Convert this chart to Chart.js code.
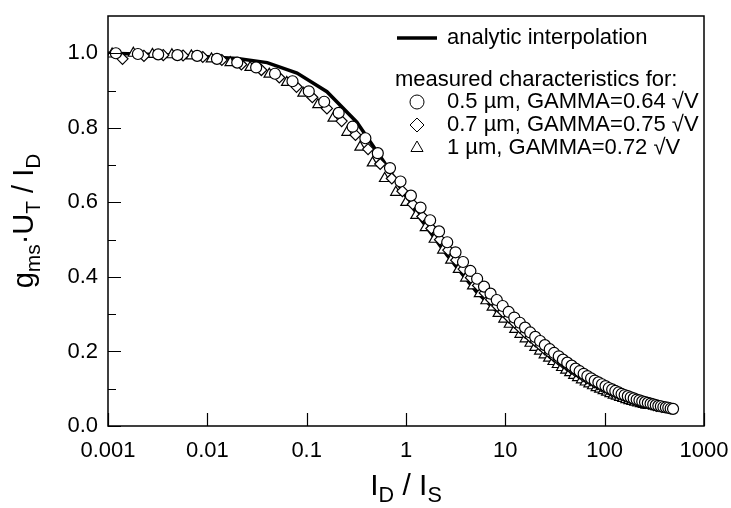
<!DOCTYPE html>
<html>
<head>
<meta charset="utf-8">
<script src="https://cdn.jsdelivr.net/npm/chart.js@4.4.1/dist/chart.umd.min.js"></script>
<style>
  body { margin: 0; background: #fff; }
  canvas { display: block; }
</style>
</head>
<body>
<canvas id="gmChart" width="731" height="508"></canvas>
<script>
// tick labels
const xTickValues = [0.001, 0.01, 0.1, 1, 10, 100, 1000];
const xTickLabels = ['0.001', '0.01', '0.1', '1', '10', '100', '1000'];
const yTickValues = [0, 0.2, 0.4, 0.6, 0.8, 1.0];
const yTickLabels = ['0.0', '0.2', '0.4', '0.6', '0.8', '1.0'];
const yMinorValues = [0.1, 0.3, 0.5, 0.7, 0.9];

// analytic interpolation (solid line)
const lineX = [0.001, 0.002, 0.005, 0.01, 0.02, 0.04, 0.08, 0.16, 0.32, 0.64, 1.28, 2.56, 5.12, 10.24, 20.48, 40.96, 81.92, 163.84, 327.68, 500];
const lineY = [1.0, 0.998, 0.995, 0.991, 0.986, 0.975, 0.947, 0.897, 0.815, 0.698, 0.57, 0.46, 0.36, 0.283, 0.217, 0.163, 0.119, 0.087, 0.062, 0.051];

// 0.5 um, GAMMA=0.64 sqrt(V)  (circles)
const circX = [0.0012, 0.002, 0.0032, 0.005, 0.0079, 0.0125, 0.02, 0.031, 0.048, 0.072, 0.105, 0.15, 0.21, 0.29, 0.39, 0.52, 0.69, 0.88, 1.12, 1.4,
  1.75, 2.15, 2.6, 3.15, 3.75, 4.45, 5.2, 6.1, 7.1, 8.2, 9.4, 10.8, 12.3, 14, 15.8, 17.8, 20, 22.4, 25, 28,
  31, 34.5, 38, 42, 46.5, 51, 56, 61.5, 67, 73, 79.5, 86.5, 94, 102, 110, 119, 128, 138, 148, 159,
  171, 183, 196, 210, 224, 239, 255, 272, 290, 308, 327, 347, 368, 390, 413, 437, 462, 488];
const circY = [1.0, 0.998, 0.997, 0.995, 0.993, 0.985, 0.975, 0.962, 0.945, 0.925, 0.898, 0.870, 0.840, 0.803, 0.772, 0.732, 0.692, 0.656, 0.618, 0.586,
  0.552, 0.522, 0.493, 0.466, 0.440, 0.416, 0.395, 0.374, 0.355, 0.338, 0.322, 0.306, 0.291, 0.277, 0.264, 0.251, 0.239, 0.228, 0.217, 0.206,
  0.196, 0.187, 0.178, 0.170, 0.162, 0.154, 0.147, 0.140, 0.134, 0.128, 0.122, 0.117, 0.112, 0.107, 0.102, 0.098, 0.094, 0.090, 0.086, 0.083,
  0.080, 0.077, 0.074, 0.071, 0.069, 0.066, 0.064, 0.062, 0.060, 0.058, 0.056, 0.054, 0.053, 0.051, 0.050, 0.049, 0.047, 0.046];

// 0.7 um, GAMMA=0.75 sqrt(V)  (diamonds)
const diamX = [0.0014, 0.0023, 0.0036, 0.0057, 0.009, 0.014, 0.022, 0.035, 0.053, 0.079, 0.114, 0.16, 0.225, 0.31, 0.415, 0.55, 0.72, 0.92, 1.17, 1.46,
  1.8, 2.2, 2.66, 3.2, 3.8, 4.5, 5.3, 6.2, 7.2, 8.3, 9.5, 10.9, 12.4, 14.1, 15.9, 17.9, 20.1, 22.5, 25.1, 27.9,
  31, 34.3, 37.9, 41.8, 46, 50.5, 55.3, 60.5, 66, 72, 78.4, 85.2, 92.5, 100.3, 108.6, 117.4, 126.8, 136.8, 147.4, 158.6,
  170.5, 183, 196.5, 210.5, 225.5, 241, 257.5, 275, 293, 312, 332, 353, 375];
const diamY = [0.985, 0.993, 0.995, 0.994, 0.990, 0.982, 0.970, 0.955, 0.935, 0.910, 0.882, 0.852, 0.818, 0.781, 0.743, 0.703, 0.664, 0.630, 0.595, 0.562,
  0.530, 0.500, 0.472, 0.445, 0.421, 0.398, 0.377, 0.357, 0.339, 0.322, 0.306, 0.291, 0.277, 0.263, 0.250, 0.238, 0.227, 0.216, 0.205, 0.196,
  0.186, 0.178, 0.170, 0.162, 0.154, 0.147, 0.141, 0.134, 0.128, 0.123, 0.117, 0.112, 0.107, 0.103, 0.099, 0.094, 0.091, 0.087, 0.084, 0.080,
  0.077, 0.074, 0.071, 0.069, 0.066, 0.064, 0.062, 0.060, 0.058, 0.056, 0.054, 0.053, 0.051];

// 1 um, GAMMA=0.72 sqrt(V)  (triangles)
const triX = [0.0011, 0.0018, 0.0028, 0.0044, 0.0069, 0.011, 0.017, 0.027, 0.042, 0.063, 0.092, 0.13, 0.185, 0.255, 0.345, 0.46, 0.61, 0.79, 1.0, 1.26,
  1.57, 1.93, 2.35, 2.83, 3.38, 4.0, 4.7, 5.5, 6.4, 7.4, 8.5, 9.7, 11, 12.5, 14.1, 15.9, 17.8, 19.9, 22.2, 24.7,
  27.4, 30.3, 33.5, 37, 40.7, 44.7, 49, 53.6, 58.6, 64, 69.7, 75.8, 82.4, 89.4, 97, 105, 113.5, 122.5, 132, 142,
  153, 164.5, 176.5, 189, 202, 216, 231, 246, 262, 278];
const triY = [0.998, 1.0, 0.997, 0.996, 0.993, 0.985, 0.975, 0.962, 0.944, 0.922, 0.893, 0.862, 0.826, 0.788, 0.748, 0.706, 0.664, 0.627, 0.600, 0.565,
  0.532, 0.501, 0.472, 0.445, 0.420, 0.397, 0.376, 0.355, 0.336, 0.319, 0.302, 0.287, 0.273, 0.259, 0.246, 0.234, 0.222, 0.211, 0.201, 0.191,
  0.182, 0.173, 0.165, 0.157, 0.150, 0.143, 0.136, 0.130, 0.124, 0.118, 0.113, 0.108, 0.103, 0.099, 0.095, 0.091, 0.087, 0.083, 0.080, 0.077,
  0.074, 0.071, 0.068, 0.066, 0.064, 0.062, 0.060, 0.058, 0.056, 0.055];

const FONT = "'Liberation Sans', Arial, sans-serif";

function toPoints(xs, ys) {
  return xs.map((x, i) => ({ x: x, y: ys[i] }));
}

function markerSet(label, xs, ys, style, radius) {
  return {
    label: label,
    data: toPoints(xs, ys),
    showLine: false,
    pointStyle: style,
    pointRadius: radius,
    pointBackgroundColor: '#fff',
    pointBorderColor: '#000',
    pointBorderWidth: 1.2,
    order: 1
  };
}

// draws text with subscripts, e.g. [['g'], ['ms', 1]]
function drawRich(ctx, parts, size, x, y, rotate) {
  const sub = size * 0.72;
  let total = 0;
  parts.forEach(p => {
    ctx.font = (p[1] ? sub : size) + 'px ' + FONT;
    total += ctx.measureText(p[0]).width;
  });
  ctx.save();
  ctx.translate(x, y);
  if (rotate) ctx.rotate(-Math.PI / 2);
  ctx.fillStyle = '#000';
  ctx.textBaseline = 'alphabetic';
  ctx.textAlign = 'left';
  let cx = -total / 2;
  parts.forEach(p => {
    ctx.font = (p[1] ? sub : size) + 'px ' + FONT;
    ctx.fillText(p[0], cx, p[1] ? size * 0.24 : 0);
    cx += ctx.measureText(p[0]).width;
  });
  ctx.restore();
}

const decorations = {
  id: 'decorations',
  afterDraw(chart) {
    const ctx = chart.ctx;
    const xs = chart.scales.x, ys = chart.scales.y;
    const a = chart.chartArea;
    ctx.save();
    ctx.strokeStyle = '#000';
    ctx.lineWidth = 1.5;
    ctx.strokeRect(a.left, a.top, a.right - a.left, a.bottom - a.top);
    ctx.lineWidth = 1.2;
    ctx.beginPath();
    xTickValues.forEach(v => {
      const px = Math.round(xs.getPixelForValue(v)) + 0.5;
      ctx.moveTo(px, a.bottom);
      ctx.lineTo(px, a.bottom - 13);
    });
    yTickValues.forEach(v => {
      const py = Math.round(ys.getPixelForValue(v)) + 0.5;
      ctx.moveTo(a.left, py);
      ctx.lineTo(a.left + 13, py);
    });
    yMinorValues.forEach(v => {
      const py = Math.round(ys.getPixelForValue(v)) + 0.5;
      ctx.moveTo(a.left, py);
      ctx.lineTo(a.left + 8, py);
    });
    ctx.stroke();

    // axis titles
    drawRich(ctx, [['I'], ['D', 1], [' / I'], ['S', 1]], 30, (a.left + a.right) / 2, 495, false);
    drawRich(ctx, [['g'], ['ms', 1], ['\u00b7U'], ['T', 1], [' / I'], ['D', 1]], 29, 33, 221, true);

    // legend
    ctx.fillStyle = '#000';
    ctx.font = '22px ' + FONT;
    ctx.textBaseline = 'middle';
    ctx.textAlign = 'left';
    ctx.lineWidth = 3.5;
    ctx.beginPath();
    ctx.moveTo(397, 38);
    ctx.lineTo(437, 38);
    ctx.stroke();
    ctx.fillText('analytic interpolation', 447, 38);
    ctx.fillText('measured characteristics for:', 395, 80);
    const rows = [
      ['circle', '0.5 \u00b5m, GAMMA=0.64 \u221aV', 102],
      ['rectRot', '0.7 \u00b5m, GAMMA=0.75 \u221aV', 125],
      ['triangle', '1 \u00b5m, GAMMA=0.72 \u221aV', 148]
    ];
    rows.forEach(r => {
      ctx.lineWidth = 1;
      ctx.fillStyle = '#fff';
      Chart.helpers.drawPoint(ctx, { pointStyle: r[0], radius: 7, borderWidth: 1 }, 417, r[2]);
      ctx.fillStyle = '#000';
      ctx.fillText(r[1], 447, r[2]);
    });
    ctx.restore();
  }
};

const datasets = [
  markerSet('0.5 \u00b5m', circX, circY, 'circle', 5.5),
  markerSet('0.7 \u00b5m', diamX, diamY, 'rectRot', 5.5),
  markerSet('1 \u00b5m', triX, triY, 'triangle', 6),
  {
    label: 'analytic interpolation',
    data: toPoints(lineX, lineY),
    showLine: true,
    borderColor: '#000',
    borderWidth: 3.5,
    pointRadius: 0,
    tension: 0,
    order: 10
  }
];

new Chart(document.getElementById('gmChart').getContext('2d'), {
  type: 'scatter',
  data: { datasets: datasets },
  options: {
    responsive: false,
    animation: false,
    layout: { padding: { left: 0, right: 27, top: 16, bottom: 0 } },
    plugins: { legend: { display: false }, tooltip: { enabled: false } },
    scales: {
      x: {
        type: 'logarithmic',
        min: 0.001,
        max: 1000,
        grid: { display: false, drawTicks: false },
        border: { display: false },
        afterBuildTicks: s => { s.ticks = xTickValues.map(v => ({ value: v })); },
        afterFit: s => { s.height = 82; s.paddingLeft = 0; s.paddingRight = 0; },
        ticks: {
          autoSkip: false,
          maxRotation: 0,
          padding: 12,
          color: '#000',
          font: { family: FONT, size: 22 },
          callback: (v) => xTickLabels[xTickValues.indexOf(v)]
        }
      },
      y: {
        min: 0,
        max: 1.1,
        grid: { display: false, drawTicks: false },
        border: { display: false },
        afterBuildTicks: s => { s.ticks = yTickValues.map(v => ({ value: v })); },
        afterFit: s => { s.width = 108; s.paddingTop = 0; s.paddingBottom = 0; },
        ticks: {
          padding: 10,
          color: '#000',
          font: { family: FONT, size: 22 },
          callback: (v) => yTickLabels[yTickValues.indexOf(v)]
        }
      }
    }
  },
  plugins: [decorations]
});
</script>
</body>
</html>
